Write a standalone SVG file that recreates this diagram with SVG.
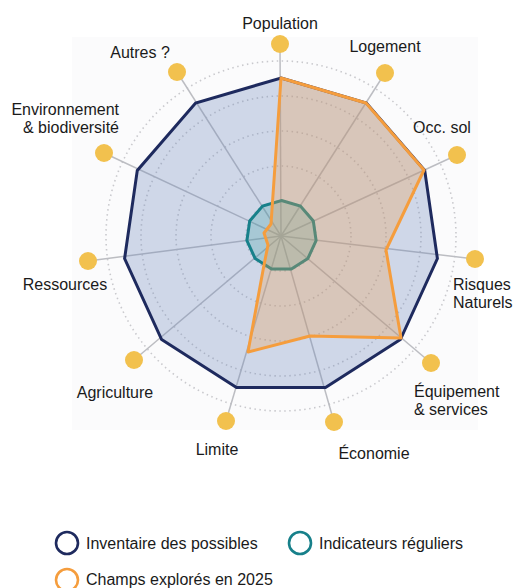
<svg xmlns="http://www.w3.org/2000/svg" width="513" height="588" viewBox="0 0 513 588">
<style>
text{font-family:"Liberation Sans",Arial,sans-serif;font-size:16px;fill:#1a1a1a}
.ring{fill:none;stroke:#c9c9cd;stroke-width:1.6;stroke-dasharray:1.5 3.5}
.axis{stroke:#bcbdc2;stroke-width:1.5}
.dot{fill:#f2c14e}
.navy{fill:#6b84b8;fill-opacity:0.3;stroke:#1e2a5e;stroke-width:3;stroke-linejoin:miter}
.teal{fill:#2f9a9a;fill-opacity:0.25;stroke:#17808a;stroke-width:3}
.orange{fill:#f0a050;fill-opacity:0.3;stroke:#f59d3d;stroke-width:3;stroke-linejoin:round}
.leg{fill:#fff;stroke-width:2.6}
</style>
<rect x="72" y="37" width="406" height="393" fill="#fbfbfc"/>
<g id="grid">
<circle class="ring" cx="281" cy="236" r="35"/>
<circle class="ring" cx="281" cy="236" r="70"/>
<circle class="ring" cx="281" cy="236" r="105"/>
<circle class="ring" cx="281" cy="236" r="140"/>
<circle class="ring" cx="281" cy="236" r="175"/>
</g>
<g id="connectors">
<line class="axis" x1="281" y1="236" x2="280" y2="44"/>
<line class="axis" x1="281" y1="236" x2="385" y2="73"/>
<line class="axis" x1="281" y1="236" x2="457" y2="155"/>
<line class="axis" x1="281" y1="236" x2="475" y2="259"/>
<line class="axis" x1="281" y1="236" x2="431" y2="363"/>
<line class="axis" x1="281" y1="236" x2="334" y2="422"/>
<line class="axis" x1="281" y1="236" x2="226" y2="421"/>
<line class="axis" x1="281" y1="236" x2="134" y2="360"/>
<line class="axis" x1="281" y1="236" x2="88" y2="261"/>
<line class="axis" x1="281" y1="236" x2="104" y2="153"/>
<line class="axis" x1="281" y1="236" x2="177" y2="72"/>
</g>
<g id="series-inventaire">
<polygon class="navy" points="281,78 366.4,103.1 424.7,170.4 437.4,258.5 400.4,339.5 325.5,387.6 236.5,387.6 161.6,339.5 124.6,258.5 137.3,170.4 195.6,103.1"/>
</g>
<g id="series-indicateurs">
<polygon class="teal" points="281.5,200.5 300.4,206.1 313.3,221 316.1,240.5 307.9,258.4 291.4,269.1 271.6,269.1 255.1,258.4 246.9,240.5 249.7,221 262.6,206.1"/>
</g>
<g id="series-champs">
<polygon class="orange" points="281,78 366,103 424,170 386,250 401,338 310,336 248,352 264,265 268,245 264,233 271,224"/>
</g>
<g id="node-population"><circle class="dot" cx="280" cy="44" r="9"/><text x="280" y="29" text-anchor="middle">Population</text></g>
<g id="node-logement"><circle class="dot" cx="385" cy="73" r="9"/><text x="385" y="52" text-anchor="middle">Logement</text></g>
<g id="node-occsol"><circle class="dot" cx="457" cy="155" r="9"/><text x="442" y="133" text-anchor="middle">Occ. sol</text></g>
<g id="node-risques"><circle class="dot" cx="475" cy="259" r="9"/><text x="453" y="290">Risques</text><text x="453" y="308">Naturels</text></g>
<g id="node-equipement"><circle class="dot" cx="431" cy="363" r="9"/><text x="414" y="397">Équipement</text><text x="414" y="415">&amp; services</text></g>
<g id="node-economie"><circle class="dot" cx="334" cy="422" r="9"/><text x="374" y="459" text-anchor="middle">Économie</text></g>
<g id="node-limite"><circle class="dot" cx="226" cy="421" r="9"/><text x="217" y="455" text-anchor="middle">Limite</text></g>
<g id="node-agriculture"><circle class="dot" cx="134" cy="360" r="9"/><text x="115" y="398" text-anchor="middle">Agriculture</text></g>
<g id="node-ressources"><circle class="dot" cx="88" cy="261" r="9"/><text x="65" y="290" text-anchor="middle">Ressources</text></g>
<g id="node-environnement"><circle class="dot" cx="104" cy="153" r="9"/><text x="119" y="115" text-anchor="end">Environnement</text><text x="119" y="133" text-anchor="end">&amp; biodiversité</text></g>
<g id="node-autres"><circle class="dot" cx="177" cy="72" r="9"/><text x="140" y="58" text-anchor="middle">Autres ?</text></g>
<g id="legend">
<circle class="leg" cx="67" cy="543" r="11" stroke="#1e2a5e"/>
<text x="86" y="549">Inventaire des possibles</text>
<circle class="leg" cx="300" cy="543" r="11" stroke="#17808a"/>
<text x="319" y="549">Indicateurs réguliers</text>
<circle class="leg" cx="67" cy="580" r="11" stroke="#f59d3d"/>
<text x="86" y="585">Champs explorés en 2025</text>
</g>
</svg>
